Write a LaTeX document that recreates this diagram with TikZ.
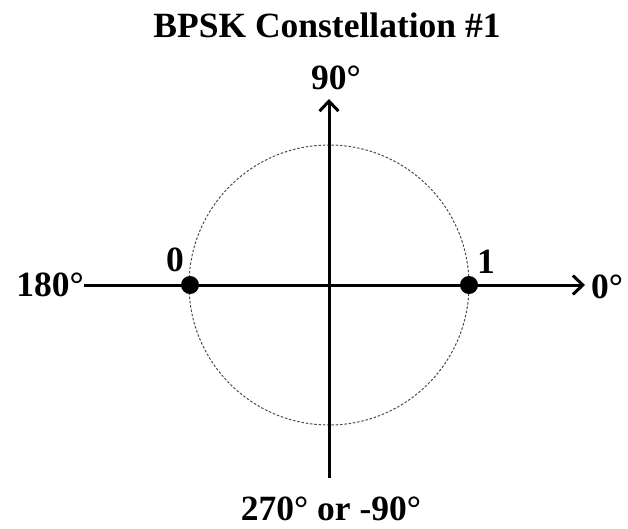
\documentclass[tikz,border=0pt]{standalone}
\usepackage{fontspec}
\setmainfont{Liberation Serif}
\usetikzlibrary{positioning, arrows.meta}

\begin{document}
\begin{tikzpicture}[x=1pt, y=-1pt,
  txt/.style={font=\fontsize{35.5}{42}\selectfont\bfseries, inner sep=0pt},
  ax/.style={line width=3pt, -{Straight Barb[length=10pt, width=19pt, line width=3pt]}},
  sym/.style={circle, fill=black, minimum size=18pt, inner sep=0pt},
  ring/.style={draw=black!70, line width=1pt, dash pattern=on 2.5pt off 1.8pt}
]
  \useasboundingbox (0,0) rectangle (628,528);
  % axes
  \coordinate (o) at (329,285);
  \coordinate (xl) at (84,285);
  \coordinate (xr) at (585,285);
  \coordinate (yb) at (329,478);
  \coordinate (yt) at (329,99);
  \draw[ring] (o) circle[radius=140];
  \draw[ax] (xl) -- (xr);
  \draw[ax] (yb) -- (yt);

  % symbols
  \node[sym] (s0) at (190,285) {};
  \node[sym] (s1) at (469,285) {};
  \node[txt] (b0) at (175,260) {0};
  \node[txt] (b1) at (486,262) {1};

  % labels
  \node[txt] (title) at (327,25) {BPSK Constellation \#1};
  \node[txt] (deg90) at (336,78) {90°};
  \node[txt, anchor=east] (deg180) at (xl) {180°};
  \node[txt, anchor=west] (deg0) at (591,287) {0°};
  \node[txt] (deg270) at (331,509) {270° or -90°};
\end{tikzpicture}
\end{document}
